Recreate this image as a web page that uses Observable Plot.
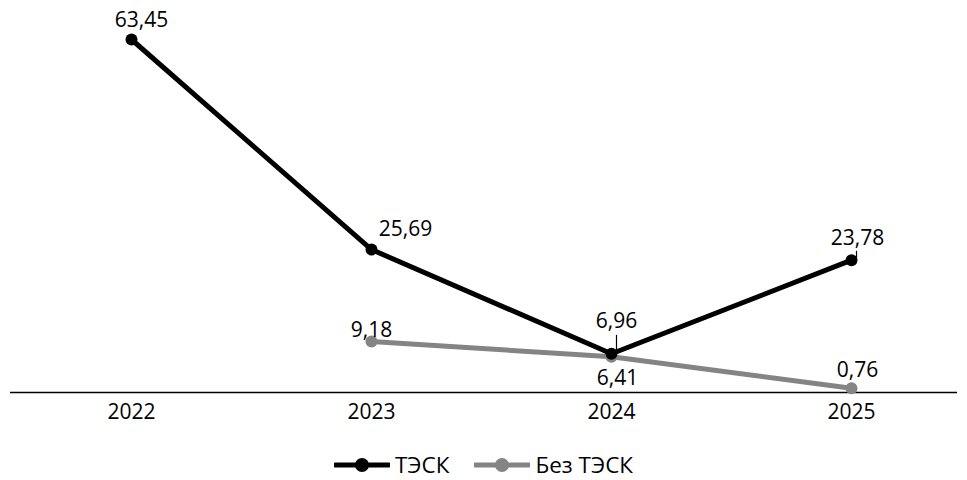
<!DOCTYPE html>
<html>
<head>
<meta charset="utf-8">
<script src="https://cdn.jsdelivr.net/npm/d3@7"></script>
<script src="https://cdn.jsdelivr.net/npm/@observablehq/plot@0.6"></script>
<style>
  html, body { margin: 0; padding: 0; background: #fff; }
  body { width: 967px; font-family: "Open Sans", sans-serif; }
  #chart svg { display: block; }
  #legend { display: flex; justify-content: center; align-items: center; gap: 25px; height: 28px; line-height: 1.15; font-size: 22.5px; color: #000; margin-top: 11px; }
  .item { display: flex; align-items: center; gap: 5px; }
</style>
</head>
<body>
<div id="chart"></div>
<div id="legend"></div>
<script>
// Years on the horizontal axis
const years = ["2022", "2023", "2024", "2025"];
// Series values
const tesk = [63.45, 25.69, 6.96, 23.78];
const bezTesk = [null, 9.18, 6.41, 0.76];
const seriesNames = ["ТЭСК", "Без ТЭСК"];
const seriesColors = ["#000000", "#848484"];

const fmt = v => v.toFixed(2).replace(".", ",");

const rowsA = years.map((year, i) => ({year, value: tesk[i], i}));
const rowsB = years.map((year, i) => ({year, value: bezTesk[i], i})).filter(d => d.value != null);

// Label placement around each point (pixels)
const placeA = [[10, -19], [34, -20], [5, -33], [6, -22]];
const placeB = [null, [0, -11], [6, 21], [6, -18]];

const fontSize = 21;

const chart = Plot.plot({
  width: 967,
  height: 440,
  marginLeft: 10,
  marginRight: 10,
  marginTop: 39,
  marginBottom: 48,
  style: {fontFamily: "Open Sans, sans-serif", fontSize: fontSize + "px", color: "#000", background: "#fff"},
  x: {type: "point", domain: years, range: [130, 852], padding: 0, label: null},
  y: {domain: [0, 63.45], label: null, axis: null},
  marks: [
    Plot.ruleY([0], {stroke: "#000", strokeWidth: 1.5}),
    Plot.axisX({tickSize: 0, tickPadding: 12, fontSize: fontSize, label: null}),
    // Leader lines for the crowded labels
    Plot.ruleX(rowsA.filter(d => d.i >= 2), {
      x: "year",
      y1: "value",
      y2: d => d.value + (d.i === 2 ? 3.3 : 1.6),
      dx: 5,
      stroke: "#000",
      strokeWidth: 1.2
    }),
    Plot.line(rowsB, {x: "year", y: "value", stroke: seriesColors[1], strokeWidth: 5}),
    Plot.dot(rowsB, {x: "year", y: "value", r: 6, fill: seriesColors[1]}),
    Plot.line(rowsA, {x: "year", y: "value", stroke: seriesColors[0], strokeWidth: 5}),
    Plot.dot(rowsA, {x: "year", y: "value", r: 6, fill: seriesColors[0]}),
    ...rowsA.map(d => Plot.text([d], {
      x: "year", y: "value", text: r => fmt(r.value),
      dx: placeA[d.i][0], dy: placeA[d.i][1], fill: "#000", fontSize: fontSize
    })),
    ...rowsB.map(d => Plot.text([d], {
      x: "year", y: "value", text: r => fmt(r.value),
      dx: placeB[d.i][0], dy: placeB[d.i][1], fill: "#000", fontSize: fontSize
    }))
  ]
});
document.getElementById("chart").appendChild(chart);

// Legend below the chart
const legend = document.getElementById("legend");
seriesNames.forEach((name, i) => {
  const item = document.createElement("div");
  item.className = "item";
  item.innerHTML = `<svg width="56" height="16"><line x1="1" y1="8" x2="55" y2="8" stroke="${seriesColors[i]}" stroke-width="5" stroke-linecap="round"/><circle cx="28" cy="8" r="7" fill="${seriesColors[i]}"/></svg><span>${name}</span>`;
  legend.appendChild(item);
});
</script>
</body>
</html>
